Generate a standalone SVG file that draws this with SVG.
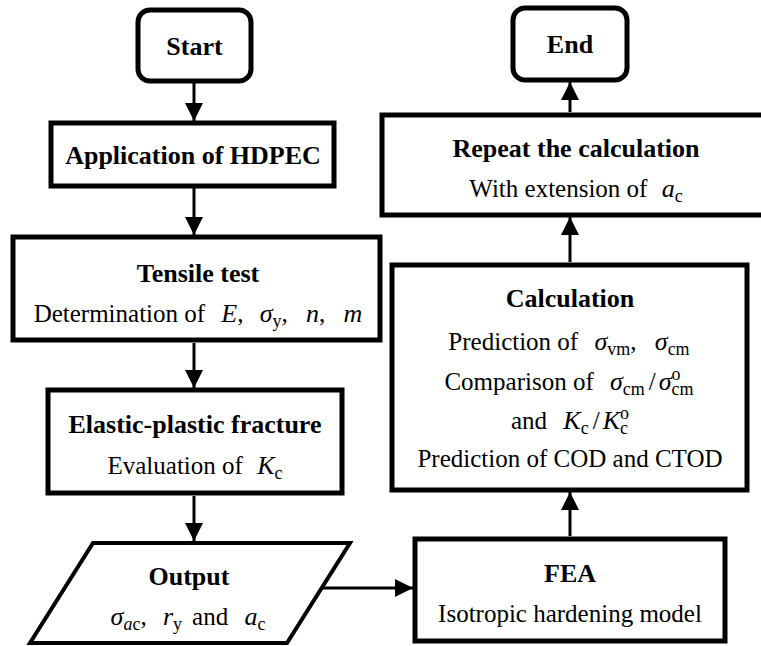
<svg xmlns="http://www.w3.org/2000/svg" width="761" height="646" viewBox="0 0 761 646">
<style>
.fcBox{fill:#fff;stroke:#000;stroke-width:5}
.fcCon{fill:none;stroke:#000;stroke-width:3;marker-end:url(#fcArrow)}
.fcIt{font-style:italic;font-size:26px}
.fcSub{font-size:18px}
</style>
<defs>
<marker id="fcArrow" markerUnits="userSpaceOnUse" markerWidth="18" markerHeight="18" refX="18" refY="9" orient="auto">
<path d="M0,0 L18,9 L0,18 z" fill="#000"/>
</marker>
</defs>
<rect width="761" height="646" fill="#fff"/>
<g id="connectors">
<path class="fcCon" d="M194,81 V121"/>
<path class="fcCon" d="M194,188 V235"/>
<path class="fcCon" d="M194,343 V388"/>
<path class="fcCon" d="M194,496 V541"/>
<path class="fcCon" d="M321,588 H413"/>
<path class="fcCon" d="M570,536 V492"/>
<path class="fcCon" d="M570,262 V217"/>
<path class="fcCon" d="M570,112 V82"/>
</g>
<g id="start">
<rect class="fcBox" x="138" y="10" width="113" height="71" rx="12"/>
<text font-family="Liberation Serif" font-weight="bold" font-size="26" text-anchor="middle" x="194.5" y="55">Start</text>
</g>
<g id="application">
<rect class="fcBox" x="51" y="123" width="283" height="63"/>
<text font-family="Liberation Serif" font-weight="bold" font-size="26" text-anchor="middle" x="193" y="164">Application of HDPEC</text>
</g>
<g id="tensile">
<rect class="fcBox" x="13" y="237" width="367" height="103"/>
<text font-family="Liberation Serif" font-weight="bold" font-size="26" text-anchor="middle" x="198" y="282">Tensile test</text>
<text font-family="Liberation Serif" font-size="25" text-anchor="middle" x="198" y="322">Determination of <tspan class="fcIt" dx="10">E</tspan>, <tspan class="fcIt" dx="10">σ</tspan><tspan class="fcSub" dy="5">y</tspan><tspan dy="-5">,</tspan> <tspan class="fcIt" dx="12">n</tspan>, <tspan class="fcIt" dx="12">m</tspan></text>
</g>
<g id="elastic">
<rect class="fcBox" x="48" y="390" width="294" height="103"/>
<text font-family="Liberation Serif" font-weight="bold" font-size="26" text-anchor="middle" x="195" y="433">Elastic-plastic fracture</text>
<text font-family="Liberation Serif" font-size="25" text-anchor="middle" x="195" y="474">Evaluation of <tspan class="fcIt" dx="8">K</tspan><tspan class="fcSub" dy="5">c</tspan></text>
</g>
<g id="output">
<path d="M93,543 L350,543 L287,643 L30,643 Z" fill="#fff" stroke="#000" stroke-width="4"/>
<text font-family="Liberation Serif" font-weight="bold" font-size="26" text-anchor="middle" x="189" y="585">Output</text>
<text font-family="Liberation Serif" font-size="25" text-anchor="middle" x="188" y="625"><tspan class="fcIt">σ</tspan><tspan class="fcSub" font-style="italic" dy="5">a</tspan><tspan class="fcSub">c</tspan><tspan dy="-5">,</tspan> <tspan class="fcIt" dx="10">r</tspan><tspan class="fcSub" dy="5">y</tspan><tspan dy="-5" dx="10">and</tspan> <tspan class="fcIt" dx="10">a</tspan><tspan class="fcSub" dy="5">c</tspan></text>
</g>
<g id="fea">
<rect class="fcBox" x="415" y="539" width="310" height="102"/>
<text font-family="Liberation Serif" font-weight="bold" font-size="26" text-anchor="middle" x="570" y="582">FEA</text>
<text font-family="Liberation Serif" font-size="25" text-anchor="middle" x="570" y="622">Isotropic hardening model</text>
</g>
<g id="calculation">
<rect class="fcBox" x="392" y="265" width="355" height="225"/>
<text font-family="Liberation Serif" font-weight="bold" font-size="26" text-anchor="middle" x="570" y="307">Calculation</text>
<text font-family="Liberation Serif" font-size="25" text-anchor="middle" x="569" y="350">Prediction of <tspan class="fcIt" dx="10">σ</tspan><tspan class="fcSub" dy="5">vm</tspan><tspan dy="-5">,</tspan> <tspan class="fcIt" dx="12">σ</tspan><tspan class="fcSub" dy="5">cm</tspan></text>
<text font-family="Liberation Serif" font-size="25" text-anchor="middle" x="569" y="390">Comparison of <tspan class="fcIt" dx="10">σ</tspan><tspan class="fcSub" dy="5">cm</tspan><tspan dy="-5" dx="4">/</tspan><tspan class="fcIt" dx="3">σ</tspan><tspan class="fcSub" dy="-10">o</tspan><tspan class="fcSub" dy="15" dx="-9">cm</tspan></text>
<text font-family="Liberation Serif" font-size="25" text-anchor="middle" x="570" y="429">and <tspan class="fcIt" dx="10">K</tspan><tspan class="fcSub" dy="5">c</tspan><tspan dy="-5" dx="4">/</tspan><tspan class="fcIt" dx="3">K</tspan><tspan class="fcSub" dy="-10">o</tspan><tspan class="fcSub" dy="15" dx="-9">c</tspan></text>
<text font-family="Liberation Serif" font-size="25" text-anchor="middle" x="570" y="467">Prediction of COD and CTOD</text>
</g>
<g id="repeat">
<rect class="fcBox" x="382" y="115" width="385" height="100"/>
<text font-family="Liberation Serif" font-weight="bold" font-size="26" text-anchor="middle" x="576" y="157">Repeat the calculation</text>
<text font-family="Liberation Serif" font-size="25" text-anchor="middle" x="576" y="197">With extension of <tspan class="fcIt" dx="8">a</tspan><tspan class="fcSub" dy="5">c</tspan></text>
</g>
<g id="end">
<rect class="fcBox" x="513" y="8" width="114" height="72" rx="12"/>
<text font-family="Liberation Serif" font-weight="bold" font-size="26" text-anchor="middle" x="570" y="53">End</text>
</g>
</svg>
